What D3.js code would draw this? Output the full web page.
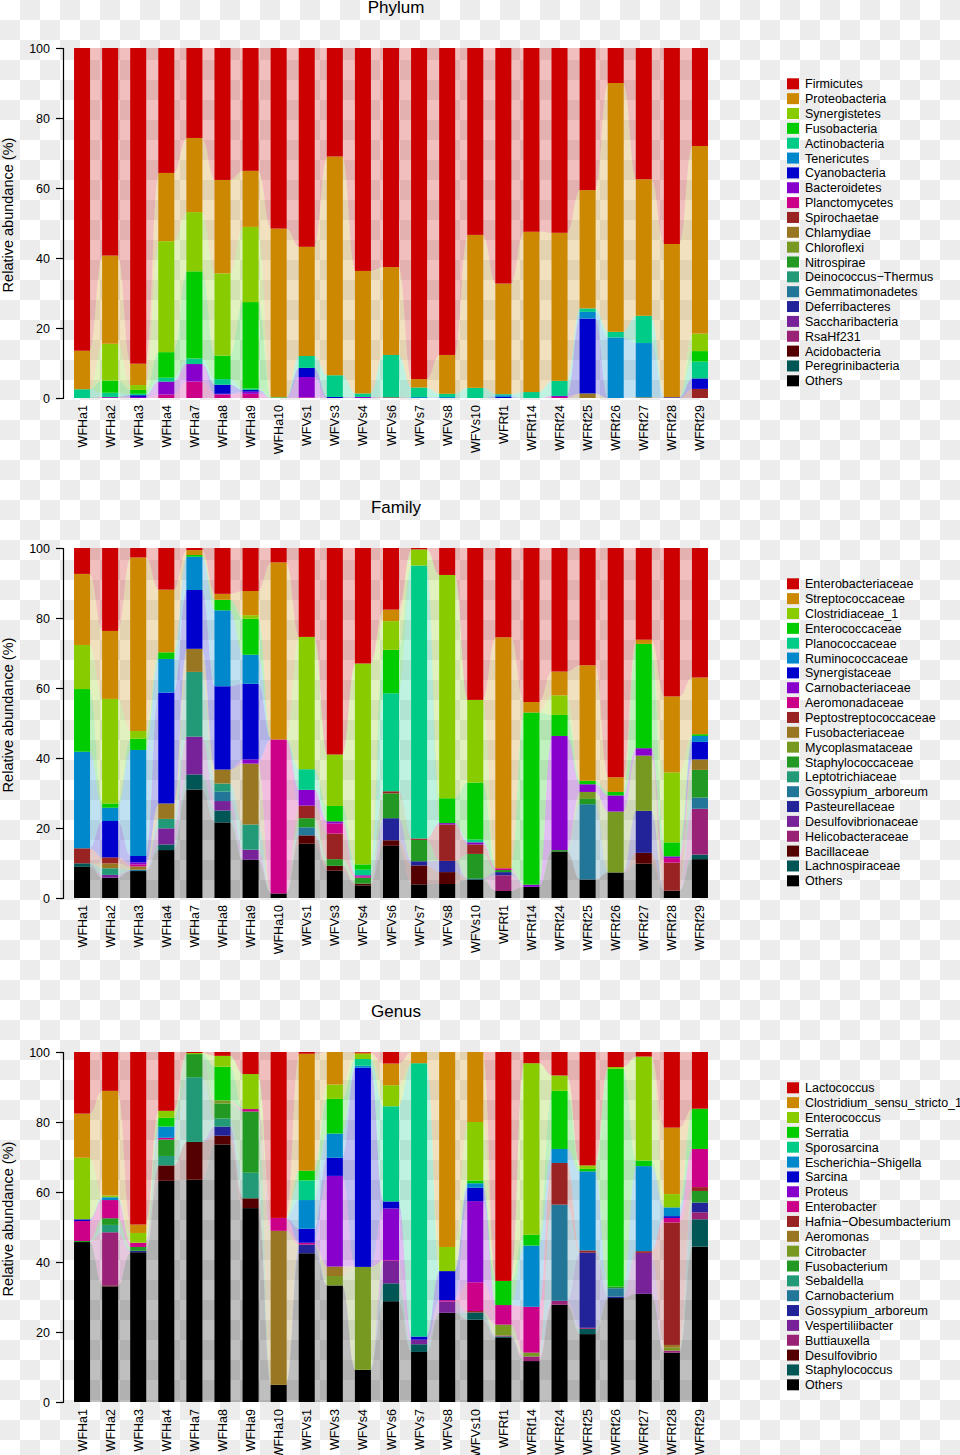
<!DOCTYPE html>
<html><head><meta charset="utf-8">
<script src="https://cdn.jsdelivr.net/npm/d3@7"></script>
<style>
body{margin:0;background:#fff}
svg{display:block}
text{font-family:"Liberation Sans",Arial,Helvetica,sans-serif;fill:#000}
</style>
</head><body>
<svg id="c" width="960" height="1455"></svg>
<script>
const samples = ["WFHa1","WFHa2","WFHa3","WFHa4","WFHa7","WFHa8","WFHa9","WFHa10","WFVs1","WFVs3","WFVs4","WFVs6","WFVs7","WFVs8","WFVs10","WFRf1","WFRf14","WFRf24","WFRf25","WFRf26","WFRf27","WFRf28","WFRf29"];
const yTicks = [0,20,40,60,80,100];
const panelTitles = ["Phylum","Family","Genus"];

const phylumNames = ["Firmicutes","Proteobacteria","Synergistetes","Fusobacteria","Actinobacteria","Tenericutes","Cyanobacteria","Bacteroidetes","Planctomycetes","Spirochaetae","Chlamydiae","Chloroflexi","Nitrospirae","Deinococcus\u2212Thermus","Gemmatimonadetes","Deferribacteres","Saccharibacteria","RsaHf231","Acidobacteria","Peregrinibacteria","Others"];
const phylumValues = [
 [86.5,59.3,90.2,35.7,25.7,37.7,35.1,51.6,56.8,31.0,63.7,62.6,94.6,87.7,53.4,67.3,52.5,52.8,40.6,10.0,37.5,56.0,28.0],
 [11.0,25.2,6.1,19.5,21.2,26.7,16.0,48.2,31.2,62.5,35.0,25.1,2.4,11.1,43.7,31.6,45.8,42.3,33.8,71.1,39.0,43.8,53.6],
 [0,10.5,1.4,31.7,16.9,23.5,21.5,0,0,0,0,0,0,0,0,0,0,0,0,0,0,0,5.0],
 [0,3.5,1.1,7.3,24.9,6.7,24.7,0,0,0,0,0,0,0,0,0,0,0,0,0,0,0,3.0],
 [2.5,1.2,0.4,1.1,1.6,1.6,0.4,0.2,3.4,6.2,1.0,12.1,2.7,0.9,2.9,0.3,1.7,4.3,1.0,1.6,7.8,0,4.8],
 [0,0,0,0,0,0,0,0,0,0,0,0,0.3,0.3,0,0.5,0,0,1.9,17.3,15.5,0,0],
 [0,0.1,0.5,0,0,2.6,0.5,0,2.6,0.3,0,0,0,0,0,0.3,0,0,21.4,0,0,0.2,3.0],
 [0,0,0.3,3.7,5.0,0.2,0.6,0,5.8,0,0.3,0,0,0,0,0,0,0.3,0,0,0,0,0],
 [0,0.2,0,1.0,4.7,1.0,1.2,0,0.2,0,0,0,0,0,0,0,0,0.3,0,0,0,0,0],
 [0,0,0,0,0,0,0,0,0,0,0,0.2,0,0,0,0,0,0,0,0,0,0,2.6],
 [0,0,0,0,0,0,0,0,0,0,0,0,0,0,0,0,0,0,1.3,0,0.2,0,0],
 [0,0,0,0,0,0,0,0,0,0,0,0,0,0,0,0,0,0,0,0,0,0,0],
 [0,0,0,0,0,0,0,0,0,0,0,0,0,0,0,0,0,0,0,0,0,0,0],
 [0,0,0,0,0,0,0,0,0,0,0,0,0,0,0,0,0,0,0,0,0,0,0],
 [0,0,0,0,0,0,0,0,0,0,0,0,0,0,0,0,0,0,0,0,0,0,0],
 [0,0,0,0,0,0,0,0,0,0,0,0,0,0,0,0,0,0,0,0,0,0,0],
 [0,0,0,0,0,0,0,0,0,0,0,0,0,0,0,0,0,0,0,0,0,0,0],
 [0,0,0,0,0,0,0,0,0,0,0,0,0,0,0,0,0,0,0,0,0,0,0],
 [0,0,0,0,0,0,0,0,0,0,0,0,0,0,0,0,0,0,0,0,0,0,0],
 [0,0,0,0,0,0,0,0,0,0,0,0,0,0,0,0,0,0,0,0,0,0,0],
 [0,0,0,0,0,0,0,0,0,0,0,0,0,0,0,0,0,0,0,0,0,0,0]
];

const familyNames = ["Enterobacteriaceae","Streptococcaceae","Clostridiaceae_1","Enterococcaceae","Planococcaceae","Ruminococcaceae","Synergistaceae","Carnobacteriaceae","Aeromonadaceae","Peptostreptococcaceae","Fusobacteriaceae","Mycoplasmataceae","Staphylococcaceae","Leptotrichiaceae","Gossypium_arboreum","Pasteurellaceae","Desulfovibrionaceae","Helicobacteraceae","Bacillaceae","Lachnospiraceae","Others"];
const familyValues = [
 [7.4,23.7,2.7,11.9,0.6,13.1,12.3,4.1,25.4,59.0,33.0,17.6,0.4,7.7,43.4,25.5,44.0,35.3,33.5,65.5,26.2,42.4,37.0],
 [20.3,19.4,49.6,17.9,1.4,1.7,6.9,50.6,0,0,0,3.3,0,0,0,66.0,3.0,6.8,33.0,4.2,1.2,21.7,16.2],
 [12.6,29.9,2.2,0,0,0,1.0,0,37.8,14.7,57.4,8.2,4.6,63.8,23.6,0,0,5.6,0,0,0,20.0,0],
 [17.9,1.2,3.2,1.9,0.5,3.0,10.3,0,0,4.4,1.5,12.4,0,7.1,16.3,0,49.2,6.0,1.0,1.0,29.8,4.0,0.5],
 [0,0,0,0,0,0,0,0,5.9,0,1.6,28.0,78.0,0,0.8,0,0,0,0,0,0,0,0],
 [27.6,3.8,30.3,9.6,9.5,21.7,8.3,0,0,0,0,0,0,0,0,0,0,0,0,0,0,0,1.7],
 [0,10.4,1.8,31.7,16.8,23.8,21.6,0,0,0,0,0,0,0,0,0,0,0,0,0,0,0,5.0],
 [0,0,0.6,0,0,0,1.2,0,4.5,0.6,0.3,0,0,0.4,0.6,0,0.6,32.6,2.2,4.6,2.1,0.5,0],
 [0,0,0.6,0,0,0,0,44.0,0,2.9,0.4,0,0,0,0,0.5,0,0,0,0,0,1.3,0],
 [4.3,1.7,0,0,0,0,0,0,3.6,7.3,0,0.6,0.4,10.4,2.7,0,0,0,0,0,0,8.0,0],
 [0,1.4,0.9,4.4,6.6,4.0,17.4,0,0,0,0,0,0,0,0,0,0,0,0,0,0,0,3.0],
 [0,0,0,0,0,0,0,0,0,0,0,0,0,0,0,0,0,0,2.0,17.4,15.8,0,0],
 [0,0,0,0,0,0,0,0,2.6,1.9,1.7,7.1,6.1,0,7.0,0.6,0,0.4,1.5,0,0,0,7.9],
 [0,1.9,0,2.7,18.5,2.3,7.2,0,0,0,0,0,0,0,0,0,0,0,0,0,0,0,0],
 [0,0,0.4,0,0,2.7,0,0,2.3,0,0,0,0,0,0,0,0,0,21.5,0,0,0,3.2],
 [0,0,0,0,0,0,0,0,0,0,0,6.3,1.2,3.2,0,0.9,0,0,0,0,12.0,0,0],
 [0,0.8,0,4.6,10.8,2.7,2.9,0,0,0,0,0,0,0,0,0,0,0,0,0,0,0,0],
 [0,0,0,0,0,0,0,0,0,0,0,0,0,0,0,4.5,0,0,0,0,0,0,13.1],
 [0,0,0,0,0,0,0,0,2.4,1.4,0.5,1.6,5.4,3.4,0,0,0,0,0,0,3.1,0,0],
 [1.0,0,0,1.6,4.3,3.4,0,0,0,0,0,0,0,0,0.4,0,0,0,0,0,0,0,1.3],
 [8.9,5.8,7.7,13.7,31.0,21.6,10.9,1.3,15.5,7.8,3.6,14.9,3.9,4.0,5.2,2.0,3.2,13.3,5.3,7.3,9.8,2.1,11.1]
];

const genusNames = ["Lactococcus","Clostridium_sensu_stricto_1","Enterococcus","Serratia","Sporosarcina","Escherichia\u2212Shigella","Sarcina","Proteus","Enterobacter","Hafnia\u2212Obesumbacterium","Aeromonas","Citrobacter","Fusobacterium","Sebaldella","Carnobacterium","Gossypium_arboreum","Vespertiliibacter","Buttiauxella","Desulfovibrio","Staphylococcus","Others"];
const genusValues = [
 [17.6,11.1,49.3,16.8,0.3,1.1,6.3,47.4,0.5,0,0.2,3.3,0,0,0,65.4,3.2,6.7,32.4,4.3,1.3,21.6,16.2],
 [12.6,29.9,2.4,0,0,0,0,0,33.4,9.3,0.4,6.2,3.2,55.7,20.0,0,0,0,0,0,0,19.0,0],
 [17.6,0.5,2.8,2.0,0.3,3.1,10.0,0,0,4.1,1.4,6.0,0,6.9,16.7,0,49.0,4.4,1.0,0.5,29.7,3.8,0],
 [0,0,0,2.5,0,9.6,0,0,2.8,9.9,0,0,0,0,0.8,6.9,3.1,16.6,0.7,62.2,1.6,0,11.5],
 [0,0,0,0,0,0,0,0,5.6,0,1.9,27.2,78.1,0,0,0,0,0,0,0,0,0,0],
 [0,0.8,0,3.2,0,0,0,0,8.2,6.9,0.6,0,0,0,1.3,0,17.5,4.0,22.6,0,24.3,2.5,0],
 [0.5,0,0,0,0,0,0,0,4.0,5.2,56.9,2.0,0.9,8.3,3.8,0,0,0,0,0,0,0.5,0],
 [0,0,0,0,0,0,0,0,0,25.9,0,14.8,0,0,23.2,0,0,0,0,0,0,0,0],
 [5.7,5.2,1.2,0.5,0,0,0.7,3.7,0.5,0,0,0.2,0,0.4,8.2,5.6,13.1,0,0,0,0,1.3,10.9],
 [0,0,0,0,0,0,0,0,0,0,0,0,0,0,0.4,0,0,11.9,0.6,0,0.5,35.0,1.1],
 [0,0,0,0,0,0,0,44.0,0,2.7,0,0,0,0,0,0,0,0,0,0,0,0.8,0],
 [0,0,0,0,0,0.9,0,0,0,2.7,29.4,0,0,0,0,3.1,1.1,0,0,0,0,0.8,0],
 [0.3,1.9,1.1,4.7,6.6,4.3,17.5,0,0,0,0,0,0,0,0,0,0,0,0,0.5,0,0,3.3],
 [0,2.1,0,2.7,18.5,2.3,7.3,0,0,0,0,0,0,0,0,0,0,0,0,0,0,0,0],
 [0,0,0,0,0,0,0,0,0,0,0,0,0,0,0,0,0,27.5,0,2.4,0,0,0],
 [0,0,0.4,0,0,2.6,0,0,2.5,0,0,0,0,0,0,0,0,0,21.5,0.4,0,0,2.8],
 [0,0,0,0,0,0,0,0,0,0,0,6.4,1.3,3.2,0,0,0,0,0,0,11.7,0,0],
 [0,15.2,0,0,0,0,0,0,0,0,0,0,0,0,0,0.3,1.3,1.1,0.3,0,0,0.6,2.0],
 [0,0.3,0,4.4,10.8,2.5,2.8,0,0,0,0,0,0,0,0,0,0,0,0,0,0,0,0],
 [0,0,0,0,0,0,0,0,0,0,0,5.1,2.2,0,2.1,0.4,0,0,1.5,0,0,0,7.8],
 [45.7,33.0,42.8,63.2,63.5,73.6,55.4,4.9,42.5,33.3,9.2,28.8,14.3,25.5,23.5,18.3,11.7,27.8,19.4,29.7,30.9,14.1,44.4]
];

// colour palette (style, shared by the three panels, legend order)
const palette = ["#cc0000","#cc8800","#88cc00","#00cc00","#00cc88","#0088cc","#0000cc","#8800cc","#cc0088","#992222","#997722","#779922","#229922","#229977","#227799","#222299","#772299","#992277","#550000","#005555","#000000"];

const svg = d3.select("#c");
const defs = svg.append("defs");
const pat = defs.append("pattern").attr("id","chk").attr("patternUnits","userSpaceOnUse")
  .attr("width",40).attr("height",40);
pat.append("rect").attr("width",40).attr("height",40).attr("fill","#ffffff");
pat.append("rect").attr("x",20).attr("y",0).attr("width",20).attr("height",20).attr("fill","#ececec");
pat.append("rect").attr("x",0).attr("y",20).attr("width",20).attr("height",20).attr("fill","#ececec");
svg.append("rect").attr("width",960).attr("height",1455).attr("fill","url(#chk)");

const panelTops = [48, 548, 1052];
const panelNames = [phylumNames, familyNames, genusNames];
const panelValues = [phylumValues, familyValues, genusValues];

panelTitles.forEach((t, pi) => drawPanel(t, panelNames[pi], panelValues[pi], panelTops[pi]));

function drawPanel(title, names, values, top) {
  const plotH = 350;
  const x = d3.scaleBand().domain(samples).range([68, 714]).paddingInner(0.43).paddingOuter(0.215);
  const y = d3.scaleLinear().domain([0, 100]).range([top + plotH, top]);
  const rows = samples.map((s, i) => {
    const o = { sample: s };
    names.forEach((n, k) => { o[n] = values[k][i]; });
    return o;
  });
  const keys = names.slice().reverse();
  const series = d3.stack().keys(keys)(rows);
  const g = svg.append("g");
  const bw = x.bandwidth();

  // flows between bars
  const flowG = g.append("g");
  series.forEach(ser => {
    const col = palette[names.indexOf(ser.key)];
    for (let i = 0; i < samples.length - 1; i++) {
      const a = ser[i], b = ser[i + 1];
      if (a[1] - a[0] <= 0 && b[1] - b[0] <= 0) continue;
      const x0 = x(samples[i]) + bw - 1, x1 = x(samples[i + 1]) + 1, xm = (x0 + x1) / 2;
      const p = d3.path();
      p.moveTo(x0, y(a[1]));
      p.bezierCurveTo(xm, y(a[1]), xm, y(b[1]), x1, y(b[1]));
      p.lineTo(x1, y(b[0]));
      p.bezierCurveTo(xm, y(b[0]), xm, y(a[0]), x0, y(a[0]));
      p.closePath();
      flowG.append("path").attr("d", p.toString()).attr("fill", col).attr("fill-opacity", 0.25);
    }
  });

  // bars
  series.forEach(ser => {
    const col = palette[names.indexOf(ser.key)];
    g.append("g").selectAll("rect").data(ser.filter(d => d[1] - d[0] > 0)).join("rect")
      .attr("x", d => x(d.data.sample))
      .attr("width", bw)
      .attr("y", d => y(d[1]))
      .attr("height", d => y(d[0]) - y(d[1]))
      .attr("fill", col);
  });

  // y axis
  const ax = g.append("g").attr("transform", "translate(63,0)")
    .call(d3.axisLeft(y).tickValues(yTicks).tickSize(7).tickPadding(6));
  ax.select(".domain").attr("stroke", "#000").attr("stroke-width", 1.2);
  ax.selectAll(".tick line").attr("stroke", "#000").attr("stroke-width", 1.2);
  ax.selectAll(".tick text").attr("font-size", 12.5).attr("font-family", '"Liberation Sans",Arial,sans-serif').attr("fill", "#000");

  // x labels
  g.append("g").selectAll("text").data(samples).join("text")
    .attr("transform", d => `translate(${x(d) + bw / 2 + 4.5},${top + plotH + 7}) rotate(-90)`)
    .attr("text-anchor", "end")
    .attr("font-size", 12.5)
    .text(d => d);

  // y label
  g.append("text")
    .attr("transform", `translate(13,${top + 167}) rotate(-90)`)
    .attr("text-anchor", "middle")
    .attr("font-size", 14.5)
    .text("Relative abundance (%)");

  // title
  g.append("text").attr("x", 396).attr("y", top - 35).attr("text-anchor", "middle")
    .attr("font-size", 17).text(title);

  // legend
  const lg = g.append("g").attr("transform", `translate(787,${top + 30.3})`);
  names.forEach((n, k) => {
    const r = lg.append("g").attr("transform", `translate(0,${k * 14.85})`);
    r.append("rect").attr("width", 12).attr("height", 11).attr("fill", palette[k]);
    r.append("text").attr("x", 18).attr("y", 10).attr("font-size", 12.5).text(n);
  });
}
</script>
</body></html>
